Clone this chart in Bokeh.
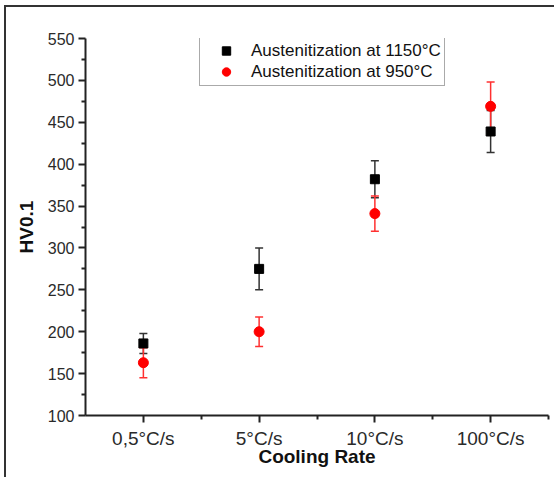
from bokeh.plotting import figure
from bokeh.models import (ColumnDataSource, Whisker, TeeHead, FixedTicker, Legend,
                          LegendItem, Range1d)
from bokeh.embed import file_html
from bokeh.resources import INLINE

categories = ["0,5°C/s", "5°C/s", "10°C/s", "100°C/s"]
positions = [1, 2, 3, 4]
hv_1150 = [186, 275, 382, 439]
err_1150 = [12, 25, 22, 25]
hv_950 = [163, 200, 341, 469]
err_950 = [18, 17.5, 21, 29]
y_ticks = [100, 150, 200, 250, 300, 350, 400, 450, 500, 550]

def make_source(vals, errs):
    return ColumnDataSource(dict(
        x=positions, y=vals,
        upper=[v + e for v, e in zip(vals, errs)],
        lower=[v - e for v, e in zip(vals, errs)],
    ))

src_1150 = make_source(hv_1150, err_1150)
src_950 = make_source(hv_950, err_950)

p = figure(frame_width=463, frame_height=377, output_backend="svg", toolbar_location=None,
           x_range=Range1d(0.5, 4.5), y_range=Range1d(100, 550),
           min_border_left=79, min_border_top=31, min_border_right=6, min_border_bottom=62)
p.styles = {"border-left": "2px solid #333", "border-top": "2px solid #333",
            "margin-left": "4px", "margin-top": "5px"}
p.outline_line_color = None
p.grid.visible = False
p.background_fill_color = "white"
p.border_fill_color = "white"

# error bars
w1 = Whisker(source=src_1150, base="x", upper="upper", lower="lower",
             line_color="#333333", line_width=1.5,
             upper_head=TeeHead(size=8, line_color="#333333", line_width=1.5),
             lower_head=TeeHead(size=8, line_color="#333333", line_width=1.5))
p.add_layout(w1)
r1 = p.scatter("x", "y", source=src_1150, marker="square", size=9,
               fill_color="black", line_color="black")

w2 = Whisker(source=src_950, base="x", upper="upper", lower="lower",
             line_color="#ff3030", line_width=1.5,
             upper_head=TeeHead(size=8, line_color="#ff3030", line_width=1.5),
             lower_head=TeeHead(size=8, line_color="#ff3030", line_width=1.5))
p.add_layout(w2)
r2 = p.scatter("x", "y", source=src_950, marker="circle", size=10,
               fill_color="#ff0000", line_color="#ff0000")

# axes
p.xaxis.ticker = FixedTicker(ticks=positions, minor_ticks=[1.5, 2.5, 3.5, 4.5])
p.xaxis.major_label_overrides = {pos: lab for pos, lab in zip(positions, categories)}
p.yaxis.ticker = FixedTicker(ticks=y_ticks, minor_ticks=[v + 25 for v in y_ticks[:-1]])

for ax in (p.xaxis[0], p.yaxis[0]):
    ax.axis_line_color = "#222222"
    ax.axis_line_width = 2
    ax.major_tick_line_color = "#222222"
    ax.major_tick_line_width = 2
    ax.minor_tick_line_color = "#222222"
    ax.minor_tick_line_width = 2
    ax.major_tick_in = 0
    ax.major_tick_out = 7
    ax.minor_tick_in = 0
    ax.minor_tick_out = 4
    ax.major_label_text_font = "Liberation Sans"
    ax.major_label_text_color = "#2a2a2a"
    ax.axis_label_text_font = "Liberation Sans"
    ax.axis_label_text_font_style = "bold"
    ax.axis_label_text_color = "#111111"
    ax.axis_label_text_font_size = "19px"

p.xaxis.axis_label = "Cooling Rate"
p.yaxis.axis_label = "HV0.1"
p.xaxis.major_label_text_font_size = "19px"
p.yaxis.major_label_text_font_size = "16px"
p.xaxis.major_label_standoff = 5
p.yaxis.major_label_standoff = 4
p.xaxis.axis_label_standoff = -6
p.yaxis.axis_label_standoff = 8

legend = Legend(items=[
    LegendItem(label="Austenitization at 1150°C", renderers=[r1]),
    LegendItem(label="Austenitization at 950°C", renderers=[r2]),
], location=(114, 329))
legend.label_text_font = "Liberation Sans"
legend.label_text_font_size = "17px"
legend.label_text_color = "#111111"
legend.border_line_color = "#555555"
legend.border_line_width = 1.5
legend.padding = 3
legend.spacing = 0
legend.glyph_width = 46
legend.label_standoff = 2
legend.margin = 0
legend.label_height = 21
legend.glyph_height = 21
p.add_layout(legend, "center")

open("out.html", "w").write(file_html(p, INLINE))
